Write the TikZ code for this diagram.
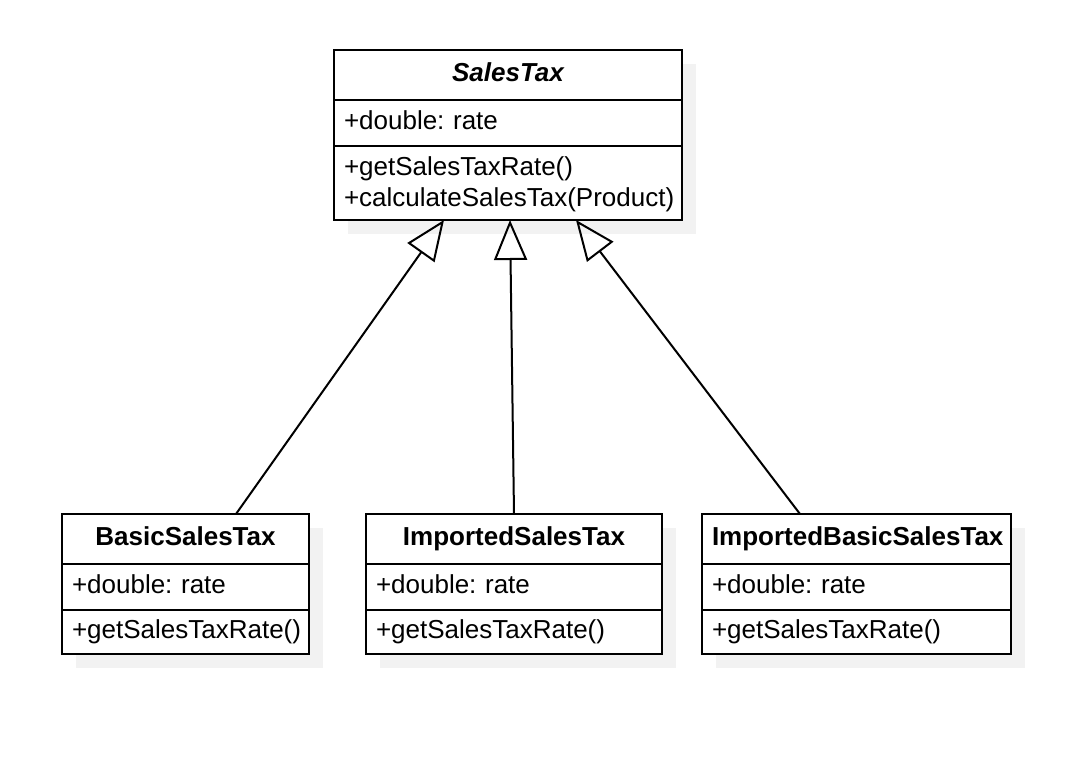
\documentclass[tikz,border=0pt]{standalone}
\usepackage{fontspec}
\setmainfont{Liberation Sans}
\usetikzlibrary{positioning,arrows.meta,shadows}
\definecolor{shadowgray}{HTML}{F2F2F2}
\frenchspacing

\begin{document}
\begin{tikzpicture}[x=1pt, y=-1pt, line width=2pt,
    font=\fontsize{26}{31}\selectfont,
    umlbox/.style={draw, fill=white, outer sep=0pt, inner xsep=10pt, inner ysep=4pt,
        text width=#1, execute at begin node=\strut,
        drop shadow={shadow xshift=14pt, shadow yshift=-14pt, opacity=1, fill=shadowgray}},
    classname/.style={umlbox=#1, minimum height=50pt, align=center,
        font=\fontsize{26}{31}\selectfont\bfseries},
    classattr/.style={umlbox=#1, minimum height=46pt, align=left},
    classops/.style={umlbox=#1, minimum height=44pt, align=left},
    inherit/.style={-{Triangle[open, length=40pt, width=33pt]}}]
    \useasboundingbox (0,0) rectangle (1082,770);
    % abstract base class
    \node[classname=328] (salestax) at (508,75) {\itshape SalesTax};
    \node[classattr=328, below=0pt of salestax] (salestaxattr) {+double: rate};
    \node[classops=328, minimum height=74pt, below=0pt of salestaxattr] (salestaxops)
        {+getSalesTaxRate()\\+calculateSalesTax(Product)};
    % subclasses
    \node[classname=227] (basic) at (185.5,539) {BasicSalesTax};
    \node[classattr=227, below=0pt of basic] (basicattr) {+double: rate};
    \node[classops=227, below=0pt of basicattr] (basicops) {+getSalesTaxRate()};
    \node[classname=276] (imported) at (514,539) {ImportedSalesTax};
    \node[classattr=276, below=0pt of imported] (importedattr) {+double: rate};
    \node[classops=276, below=0pt of importedattr] (importedops) {+getSalesTaxRate()};
    \node[classname=289] (impbasic) at (856.5,539) {ImportedBasicSalesTax};
    \node[classattr=289, below=0pt of impbasic] (impbasicattr) {+double: rate};
    \node[classops=289, below=0pt of impbasicattr] (impbasicops) {+getSalesTaxRate()};
    % generalisation
    \draw[inherit] ([xshift=50.5pt]basic.north) -- ([xshift=-64pt]salestaxops.south);
    \draw[inherit] (imported.north) -- ([xshift=2pt]salestaxops.south);
    \draw[inherit] ([xshift=-56.5pt]impbasic.north) -- ([xshift=68pt]salestaxops.south);
\end{tikzpicture}
\end{document}
